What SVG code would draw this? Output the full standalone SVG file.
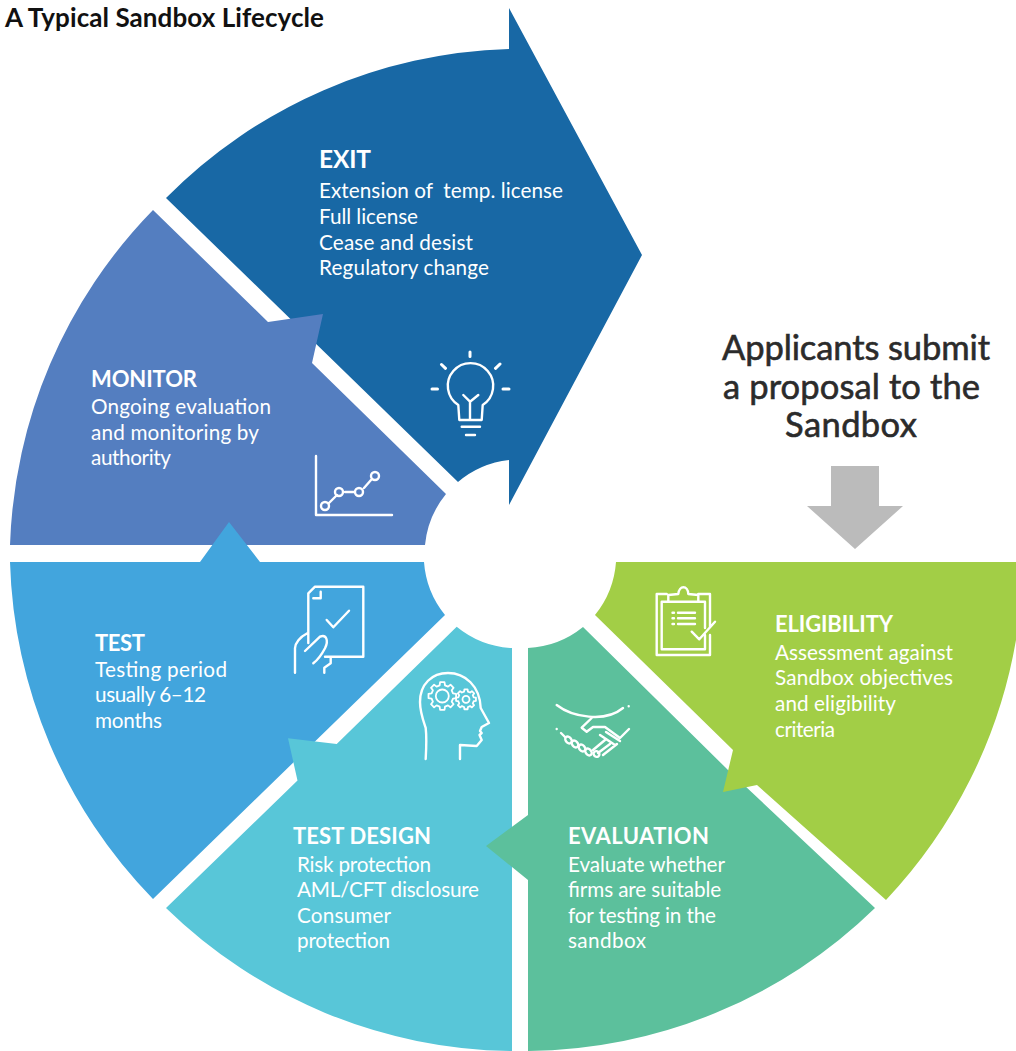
<svg xmlns="http://www.w3.org/2000/svg" width="1016" height="1051" viewBox="0 0 1016 1051">
<style>
text{font-family:Lato,"Open Sans","Liberation Sans",sans-serif;fill:#fff;font-size:20.7px;white-space:pre}
.h{font-weight:700;font-size:22px}
.i{fill:none;stroke:#fff;stroke-width:2.4;stroke-linecap:round;stroke-linejoin:round}
.g{fill:none;stroke:#fff;stroke-width:1.8;stroke-linejoin:round;vector-effect:non-scaling-stroke}
.p{fill:#2b2b2b;stroke:#2b2b2b;stroke-width:.6;font-size:34.5px;text-anchor:middle}
</style>
<defs>
<path id="gear" class="g" d="M10.7 -2.7L13.8 -2.2V2.2L10.7 2.7L9.4 5.7L11.3 8.2L8.2 11.3L5.7 9.4L2.7 10.7L2.2 13.8H-2.2L-2.7 10.7L-5.7 9.4L-8.2 11.3L-11.3 8.2L-9.4 5.7L-10.7 2.7L-13.8 2.2V-2.2L-10.7 -2.7L-9.4 -5.7L-11.3 -8.2L-8.2 -11.3L-5.7 -9.4L-2.7 -10.7L-2.2 -13.8H2.2L2.7 -10.7L5.7 -9.4L8.2 -11.3L11.3 -8.2L9.4 -5.7Z"/>
</defs>
<rect width="1016" height="1051" fill="#fff"/>
<text x="5" y="26.6" textLength="319" style="fill:#111;font-weight:700;font-size:26px">A Typical Sandbox Lifecycle</text>
<g id="exit">
<path fill="#1868A5" d="M166 198A503 503 0 0 1 509 49L509 8L642 255L509 505L509 460A95 95 0 0 0 458 482Z"/>
<text x="319" y="167.6" class="h" style="font-size:24.5px" textLength="52">EXIT</text>
<text x="319" y="197.6" textLength="244">Extension of  temp. license</text>
<text x="319" y="223.6" textLength="99">Full license</text>
<text x="319" y="249.6" textLength="154">Cease and desist</text>
<text x="319" y="274.6" textLength="170">Regulatory change</text>
<g class="i"><path d="M458.3 405L459.3 420H481.7L482.7 405A22.7 22.7 0 1 0 458.3 405ZM470 420V401.7M463.3 395L470 401.7L478.3 395M461.7 426.7H480M466 435H475"/><path style="stroke-width:3" d="M470 352V356.5M441.5 364.5L445.5 368.3M500 364L495.5 368.3M432 389H437.5M503 389H509"/></g>
</g>
<g id="monitor">
<path fill="#547EC0" d="M153 210A503 503 0 0 0 10 545H425A95 95 0 0 1 446 494L312 363L323 314L268 322Z"/>
<text x="91" y="386.6" class="h" textLength="106">MONITOR</text>
<text x="91" y="413.6" textLength="180">Ongoing evaluation</text>
<text x="91" y="439.6" textLength="168">and monitoring by</text>
<text x="91" y="464.6" textLength="80">authority</text>
<g class="i"><path d="M316 456V515H392M329 503L337 495M345 492H354M364 488L371 480"/><circle cx="325" cy="506" r="4"/><circle cx="339" cy="492" r="4"/><circle cx="359" cy="492" r="4"/><circle cx="375" cy="476" r="4"/></g>
</g>
<g id="test">
<path fill="#42A5DD" d="M10 562H200L229 522L260 562H424A95 95 0 0 0 445 615L153 899A503 503 0 0 1 10 562Z"/>
<text x="95" y="650.6" class="h" textLength="50">TEST</text>
<text x="95" y="676.6" textLength="132">Testing period</text>
<text x="95" y="701.6" textLength="111">usually 6–12</text>
<text x="95" y="727.6" textLength="67">months</text>
<g class="i"><path d="M308.3 643V593.3L315 586.7H363.3V656.7H325M313.3 598.3H320.7V591.7M326.7 620L333.3 627.3L349 610.7M295 672.7V648.3C295 643 300 637 307.3 633.3M305 651L320 636.7C326 634 329 640 325 648.3C322 654 319 659 313.3 663.3M330.7 657V663.3L324.3 667.7V672.7"/></g>
</g>
<g id="test-design">
<path fill="#58C6D8" d="M166 908A503 503 0 0 0 512 1051V648A95 95 0 0 1 456.7 626.7L336.7 744L288 738.3L297.5 780.5Z"/>
<text x="293" y="843.6" class="h" textLength="138">TEST DESIGN</text>
<text x="297" y="871.6" textLength="134">Risk protection</text>
<text x="297" y="896.6" textLength="182">AML/CFT disclosure</text>
<text x="297" y="922.6" textLength="94">Consumer</text>
<text x="297" y="947.6" textLength="93">protection</text>
<g class="i"><path d="M425.7 759C426.5 745 426.5 735 425.7 728C423 720 420 712 420 702C420 684 432 673 448 673C465 673 480 686 480.7 708L489 723L481.7 727L480 731L481.7 733L479.5 735L481.7 740L476.7 746L460 745V759"/></g>
<circle cx="442.3" cy="696" r="6.5" class="g"/><circle cx="466" cy="699.3" r="3.5" class="g"/>
<use href="#gear" transform="translate(442.3 696)"/><use href="#gear" transform="translate(466 699.3) scale(.72)"/>
</g>
<g id="evaluation">
<path fill="#5CC09C" d="M528 648A95 95 0 0 0 583 627L728 770L875 908A503 503 0 0 1 528 1051V880L486 846L528 815Z"/>
<text x="568" y="843.6" class="h" textLength="141">EVALUATION</text>
<text x="568" y="871.6" textLength="157">Evaluate whether</text>
<text x="568" y="896.6" textLength="153">firms are suitable</text>
<text x="568" y="922.6" textLength="148">for testing in the</text>
<text x="568" y="947.6" textLength="78">sandbox</text>
<g class="i"><path d="M556.7 705C572 717 605 723 623 708M628.7 706.3V706.3M591.7 718L581.7 727.7L586.7 731.7L593 727H605L620 738L629 729M556.7 729V729M561 733L565 737M600 735L615 745M606 732L620 741M593 750L605 740M598 753L610 744M603 755L617 744"/>
<ellipse cx="568.5" cy="740" rx="2.8" ry="3.8" transform="rotate(-40 568.5 740)"/><ellipse cx="575" cy="744" rx="2.8" ry="3.8" transform="rotate(-40 575 744)"/><ellipse cx="582" cy="748" rx="2.8" ry="3.8" transform="rotate(-40 582 748)"/><ellipse cx="588.5" cy="752" rx="2.8" ry="3.8" transform="rotate(-40 588.5 752)"/><ellipse cx="596.5" cy="754" rx="2.8" ry="3" transform="rotate(-40 596.5 754)"/></g>
</g>
<g id="eligibility">
<path fill="#A2CE46" d="M595 615A95 95 0 0 0 616 562H1016V640A503 503 0 0 1 886 900L757 785L723 792L733 750Z"/>
<text x="775" y="631.6" class="h" textLength="118">ELIGIBILITY</text>
<text x="775" y="659.6" textLength="178">Assessment against</text>
<text x="775" y="684.6" textLength="178">Sandbox objectives</text>
<text x="775" y="710.6" textLength="121">and eligibility</text>
<text x="775" y="736.6" textLength="60">criteria</text>
<g class="i"><path d="M666.7 594H656.7V655H710V635M698.3 594H710V626.7M668.3 601.7H661.7V649.3H705V635M698.3 601.7H705V628M668.3 601.7V595L678.3 594C679 585 688 585 688.3 594L698.3 595V601.7ZM672.5 612.7H674M672.5 618.3H674M672.5 624H674M678 612.7H695M678 618.3H695M678 624H695M691.7 631.7L699.3 639.3L715 621.7"/></g>
</g>
<g id="proposal">
<text x="856" y="359.5" class="p" textLength="268">Applicants submit</text>
<text x="851.5" y="398.5" class="p" textLength="257">a proposal to the</text>
<text x="851" y="436.5" class="p" textLength="132">Sandbox</text>
</g>
<g id="connectors">
<path fill="#BBBBBB" d="M831 466H879V506H903L855 549L807 506H831Z"/>
</g>
</svg>
